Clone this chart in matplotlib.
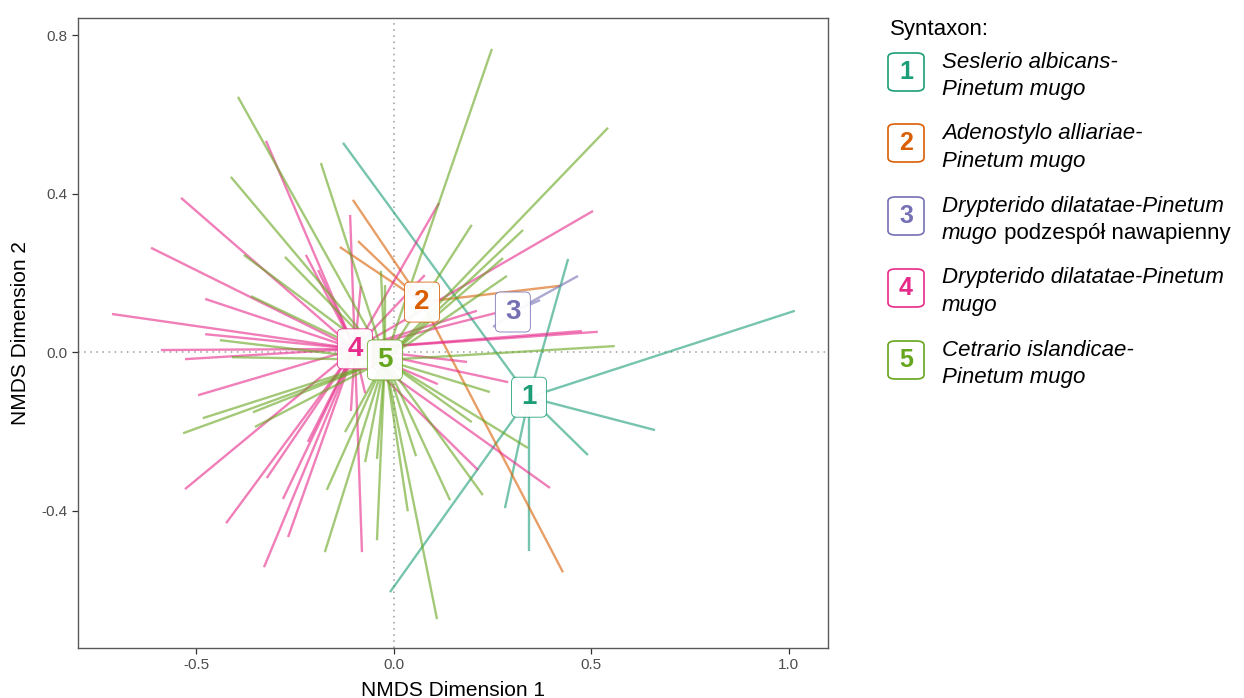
import matplotlib
matplotlib.use("Agg")
import matplotlib.pyplot as plt
from matplotlib.patches import FancyBboxPatch
from matplotlib.transforms import ScaledTranslation

plt.rcParams['font.family'] = ['Liberation Sans', 'DejaVu Sans']
plt.rcParams['axes.unicode_minus'] = False

# ---------------- data ----------------
group_labels = ['1', '2', '3', '4', '5']
group_colors = ['#1B9E77', '#D95F02', '#7570B3', '#E7298A', '#66A61E']

centroid_x = [0.342, 0.071, 0.301, -0.099, -0.023]
centroid_y = [-0.114, 0.126, 0.101, 0.008, -0.020]

g1_x = [-0.129, 0.441, 1.015, 0.661, 0.491, 0.342, 0.281, -0.010]
g1_y = [0.528, 0.235, 0.104, -0.197, -0.260, -0.503, -0.394, -0.606]

g2_x = [-0.104, -0.091, -0.137, 0.420, 0.428]
g2_y = [0.384, 0.280, 0.265, 0.167, -0.556]

g3_x = [0.466, 0.251, 0.370]
g3_y = [0.192, 0.063, 0.131]

g4_x = [-0.324, -0.539, -0.615, -0.478, -0.714, -0.478, -0.590, -0.111, -0.223,
        -0.192, -0.084, 0.114, 0.504, 0.078, 0.210, 0.516, 0.476, 0.256, 0.185,
        0.111, 0.289, 0.395, 0.213, -0.496, -0.529, -0.425, -0.329, -0.268,
        -0.281, -0.322, -0.218, -0.081, -0.109, -0.529, -0.073]
g4_y = [0.533, 0.389, 0.263, 0.134, 0.096, 0.045, 0.005, 0.346, 0.245,
        0.207, 0.167, 0.376, 0.356, 0.194, 0.104, 0.051, 0.053, 0.098, -0.025,
        -0.081, -0.076, -0.343, -0.298, -0.109, -0.346, -0.432, -0.543, -0.467,
        -0.371, -0.318, -0.227, -0.505, -0.149, -0.018, -0.104]

g5_x = [-0.395, -0.413, -0.185, -0.276, -0.380, -0.362, -0.441, -0.033, -0.023,
        -0.410, 0.248, 0.542, 0.197, 0.327, 0.276, 0.286, 0.559, 0.339, 0.197,
        0.243, 0.225, 0.142, 0.056, 0.035, 0.109, -0.043, -0.043, -0.484,
        -0.534, -0.352, -0.357, -0.170, -0.175, -0.124, -0.073]
g5_y = [0.644, 0.442, 0.477, 0.240, 0.245, 0.141, 0.030, 0.205, 0.169,
        -0.013, 0.765, 0.566, 0.321, 0.308, 0.237, 0.192, 0.015, -0.242, -0.177,
        -0.101, -0.361, -0.374, -0.263, -0.402, -0.674, -0.475, -0.270, -0.167,
        -0.205, -0.189, -0.152, -0.348, -0.505, -0.202, -0.278]

site_x = [g1_x, g2_x, g3_x, g4_x, g5_x]
site_y = [g1_y, g2_y, g3_y, g4_y, g5_y]

legend_title = "Syntaxon:"
legend_line1 = ["Seslerio albicans-", "Adenostylo alliariae-",
                "Drypterido dilatatae-Pinetum", "Drypterido dilatatae-Pinetum",
                "Cetrario islandicae-"]
legend_line2_italic = ["Pinetum mugo", "Pinetum mugo", "mugo", "mugo", "Pinetum mugo"]
legend_line2_plain = ["", "", " podzespół nawapienny", "", ""]

x_ticks = [-0.5, 0.0, 0.5, 1.0]
y_ticks = [-0.4, 0.0, 0.4, 0.8]
x_title = "NMDS Dimension 1"
y_title = "NMDS Dimension 2"

# ---------------- figure ----------------
W, H = 1244, 698
fig = plt.figure(figsize=(W / 100, H / 100), dpi=100)
ax = fig.add_axes([78 / W, (H - 648) / H, 750 / W, 630 / H])

ax.set_xlim(-0.800, 1.099)
ax.set_ylim(-0.747, 0.843)

ax.axvline(0, color='#9a9a9a', lw=1.1, ls=(0, (1, 3)), zorder=1)
ax.axhline(0, color='#9a9a9a', lw=1.1, ls=(0, (1, 3)), zorder=1)

for gi in range(5):
    cx, cy = centroid_x[gi], centroid_y[gi]
    for px, py in zip(site_x[gi], site_y[gi]):
        ax.plot([cx, px], [cy, py], color=group_colors[gi], lw=1.7,
                alpha=0.6, solid_capstyle='butt', zorder=2)

# centroid labels
for gi in range(5):
    tr = fig.dpi_scale_trans + ScaledTranslation(centroid_x[gi], centroid_y[gi], ax.transData)
    box = FancyBboxPatch((-0.175, -0.20), 0.35, 0.40,
                         boxstyle="round,pad=0,rounding_size=0.05",
                         transform=tr, facecolor='white', alpha=0.95,
                         edgecolor=group_colors[gi], linewidth=0.6, zorder=4)
    box.set_edgecolor((*matplotlib.colors.to_rgb(group_colors[gi]), 0.35))
    ax.add_patch(box)
    ax.text(centroid_x[gi], centroid_y[gi], group_labels[gi], color=group_colors[gi],
            fontsize=20, fontweight='bold', ha='center', va='center', zorder=5)

ax.set_xticks(x_ticks)
ax.set_yticks(y_ticks)
ax.set_xticklabels([f"{v:.1f}" for v in x_ticks])
ax.set_yticklabels([f"{v:.1f}" for v in y_ticks])
ax.tick_params(axis='both', labelsize=11, labelcolor='#4d4d4d', color='#333333',
               length=4, width=0.9)
for s in ax.spines.values():
    s.set_color('#5a5a5a')
    s.set_linewidth(1.0)

ax.set_xlabel(x_title, fontsize=15, labelpad=6)
ax.set_ylabel(y_title, fontsize=15, labelpad=8)

# ---------------- legend ----------------
def fx(px):
    return px / W

def fy(py):
    return 1 - py / H

fig.text(fx(890), fy(29), legend_title, fontsize=16, ha='left', va='center')

key_cy = [72, 143, 216, 288, 360]
line1_y = [62, 133, 206, 278, 350]
line2_y = [89, 161, 233, 305, 377]
renderer = fig.canvas.get_renderer()
for i in range(5):
    kx, ky = 906, key_cy[i]
    box = FancyBboxPatch((fx(kx - 18), fy(ky + 19)), 36 / W, 38 / H,
                         boxstyle="round,pad=0,rounding_size=0.006",
                         transform=fig.transFigure, facecolor='white',
                         edgecolor=group_colors[i], linewidth=1.2)
    fig.patches.append(box)
    fig.text(fx(kx), fy(ky), group_labels[i], color=group_colors[i], fontsize=18,
             fontweight='bold', ha='center', va='center')
    fig.text(fx(942), fy(line1_y[i]), legend_line1[i], fontsize=16,
             style='italic', ha='left', va='center')
    t2 = fig.text(fx(942), fy(line2_y[i]), legend_line2_italic[i], fontsize=16,
                  style='italic', ha='left', va='center')
    if legend_line2_plain[i]:
        bb = t2.get_window_extent(renderer=renderer)
        fig.text(bb.x1 / W, fy(line2_y[i]), legend_line2_plain[i], fontsize=16,
                 ha='left', va='center')

fig.savefig("out.png", dpi=100)
